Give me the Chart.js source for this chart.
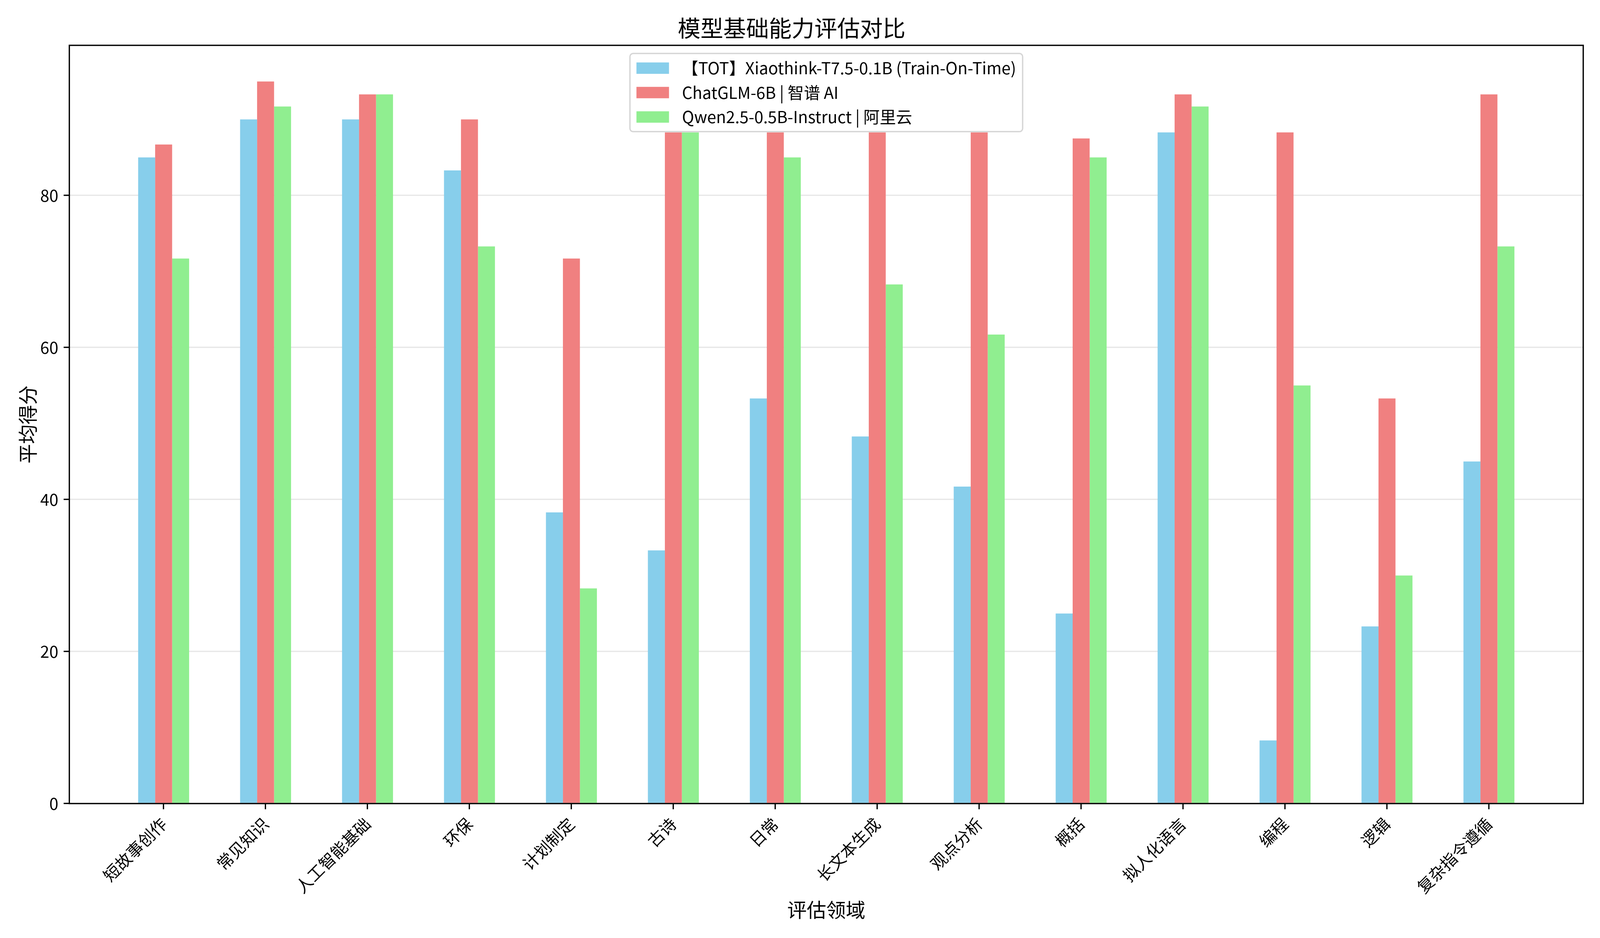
<!DOCTYPE html>
<html>
<head>
<meta charset="utf-8">
<script src="https://cdn.jsdelivr.net/npm/chart.js@4/dist/chart.umd.min.js"></script>
<style>
  html, body { margin: 0; padding: 0; background: #fff; overflow: hidden; }
  #scoreChart { display: block; }
</style>
</head>
<body>
<canvas id="scoreChart"></canvas>
<script>
const categories = ['短故事创作', '常见知识', '人工智能基础', '环保', '计划制定', '古诗', '日常',
    '长文本生成', '观点分析', '概括', '拟人化语言', '编程', '逻辑', '复杂指令遵循'];
const seriesNames = ['【TOT】Xiaothink-T7.5-0.1B (Train-On-Time)', 'ChatGLM-6B | 智谱 AI', 'Qwen2.5-0.5B-Instruct | 阿里云'];
const xiaothinkScores = [85, 90, 90, 83.3, 38.3, 33.3, 53.3, 48.3, 41.7, 25, 88.3, 8.3, 23.3, 45];
const chatglmScores = [86.7, 95, 93.3, 90, 71.7, 88.3, 88.3, 88.3, 88.3, 87.5, 93.3, 88.3, 53.3, 93.3];
const qwenScores = [71.7, 91.7, 93.3, 73.3, 28.3, 88.3, 85, 68.3, 61.7, 85, 91.7, 55, 30, 73.3];
const yTicks = [0, 20, 40, 60, 80];

const SKYBLUE = '#87CEEB';
const LIGHTCORAL = '#F08080';
const LIGHTGREEN = '#90EE90';
const FONT = '"Noto Sans CJK SC", "Noto Sans", sans-serif';

// the figure was 4200x2400; fit it to whatever the window really is
const W = window.innerWidth || 4200;
const H = window.innerHeight || 2400;
const sx = W / 4200;
const sy = H / 2400;
const PT = (300 / 72) * sy;

const canvas = document.getElementById('scoreChart');
canvas.width = W;
canvas.height = H;

Chart.defaults.font.family = FONT;
Chart.defaults.color = '#000';

const toPoints = (values) => values.map((v, i) => ({ x: i, y: v }));

// matplotlib-like legend drawn inside the axes, upper center
const innerLegend = {
    id: 'innerLegend',
    afterDraw(chart) {
        const ctx = chart.ctx;
        const area = chart.chartArea;
        const fs = 10 * PT;
        const pad = 0.4 * fs, handleW = 2 * fs, handleH = 0.7 * fs, gap = 0.8 * fs, spacing = 0.5 * fs;
        ctx.save();
        ctx.font = fs + 'px ' + FONT;
        const sets = chart.data.datasets;
        let textW = 0;
        sets.forEach(ds => { textW = Math.max(textW, ctx.measureText(ds.label).width); });
        const w = pad * 2 + handleW + gap + textW;
        const h = pad * 2 + sets.length * fs + (sets.length - 1) * spacing;
        const x0 = (area.left + area.right) / 2 - w / 2;
        const y0 = area.top + 0.5 * fs;
        ctx.beginPath();
        ctx.roundRect(x0, y0, w, h, 0.2 * fs);
        ctx.fillStyle = 'rgba(255,255,255,0.8)';
        ctx.fill();
        ctx.strokeStyle = 'rgba(204,204,204,0.8)';
        ctx.lineWidth = 3.5;
        ctx.stroke();
        ctx.textBaseline = 'middle';
        ctx.textAlign = 'left';
        sets.forEach((ds, i) => {
            const cy = y0 + pad + i * (fs + spacing) + fs / 2;
            ctx.fillStyle = ds.backgroundColor;
            ctx.fillRect(x0 + pad, cy - handleH / 2, handleW, handleH);
            ctx.fillStyle = '#000';
            ctx.fillText(ds.label, x0 + pad + handleW + gap, cy);
        });
        ctx.restore();
    }
};

// axes frame on all four sides
const axesFrame = {
    id: 'axesFrame',
    afterDatasetsDraw(chart) {
        const { ctx, chartArea: a } = chart;
        ctx.save();
        ctx.strokeStyle = '#000';
        ctx.lineWidth = 0.8 * PT;
        ctx.strokeRect(a.left, a.top, a.right - a.left, a.bottom - a.top);
        ctx.restore();
    }
};

const data = {
    datasets: [
        { label: seriesNames[0], data: toPoints(xiaothinkScores), backgroundColor: SKYBLUE },
        { label: seriesNames[1], data: toPoints(chatglmScores), backgroundColor: LIGHTCORAL },
        { label: seriesNames[2], data: toPoints(qwenScores), backgroundColor: LIGHTGREEN },
    ]
};

const config = {
    type: 'bar',
    data: data,
    options: {
        responsive: false,
        animation: false,
        devicePixelRatio: 1,
        categoryPercentage: 0.5,
        barPercentage: 1.0,
        borderWidth: 0,
        layout: { padding: { left: 0, right: 44 * sx, top: 0, bottom: 0 } },
        plugins: {
            legend: { display: false },
            tooltip: { enabled: false },
            title: {
                display: true,
                text: '模型基础能力评估对比',
                font: { size: 14 * PT, weight: 'normal', lineHeight: 1.2 },
                color: '#000',
                padding: { top: 37 * sy, bottom: 9 * sy }
            }
        },
        scales: {
            x: {
                type: 'linear',
                min: -0.925,
                max: 13.925,
                offset: false,
                afterBuildTicks: (axis) => { axis.ticks = categories.map((c, i) => ({ value: i })); },
                afterFit: (axis) => { axis.height = 344 * sy; },
                ticks: {
                    autoSkip: false,
                    minRotation: 45,
                    maxRotation: 45,
                    padding: 12 * sy,
                    font: { size: 10 * PT },
                    callback: (value) => categories[value]
                },
                grid: {
                    display: true,
                    offset: false,
                    drawOnChartArea: false,
                    drawTicks: true,
                    tickLength: 3.5 * PT,
                    tickColor: '#000',
                    tickWidth: 0.8 * PT
                },
                border: { display: false },
                title: {
                    display: true,
                    text: '评估领域',
                    font: { size: 12 * PT, lineHeight: 1.2 },
                    padding: { top: 0, bottom: 42 * sy }
                }
            },
            y: {
                min: 0,
                max: 99.75,
                z: 1,
                afterBuildTicks: (axis) => { axis.ticks = yTicks.map(v => ({ value: v })); },
                afterFit: (axis) => { axis.width = 182 * sx; },
                ticks: {
                    padding: 14 * sx,
                    font: { size: 10 * PT }
                },
                grid: {
                    color: 'rgba(176,176,176,0.3)',
                    lineWidth: 0.8 * PT,
                    drawTicks: true,
                    tickLength: 3.5 * PT,
                    tickColor: '#000',
                    tickWidth: 0.8 * PT
                },
                border: { display: false },
                title: {
                    display: true,
                    text: '平均得分',
                    font: { size: 12 * PT, lineHeight: 1.2 },
                    padding: { top: 42 * sx, bottom: 0 }
                }
            }
        }
    },
    plugins: [axesFrame, innerLegend]
};

new Chart(canvas, config);
</script>
</body>
</html>
